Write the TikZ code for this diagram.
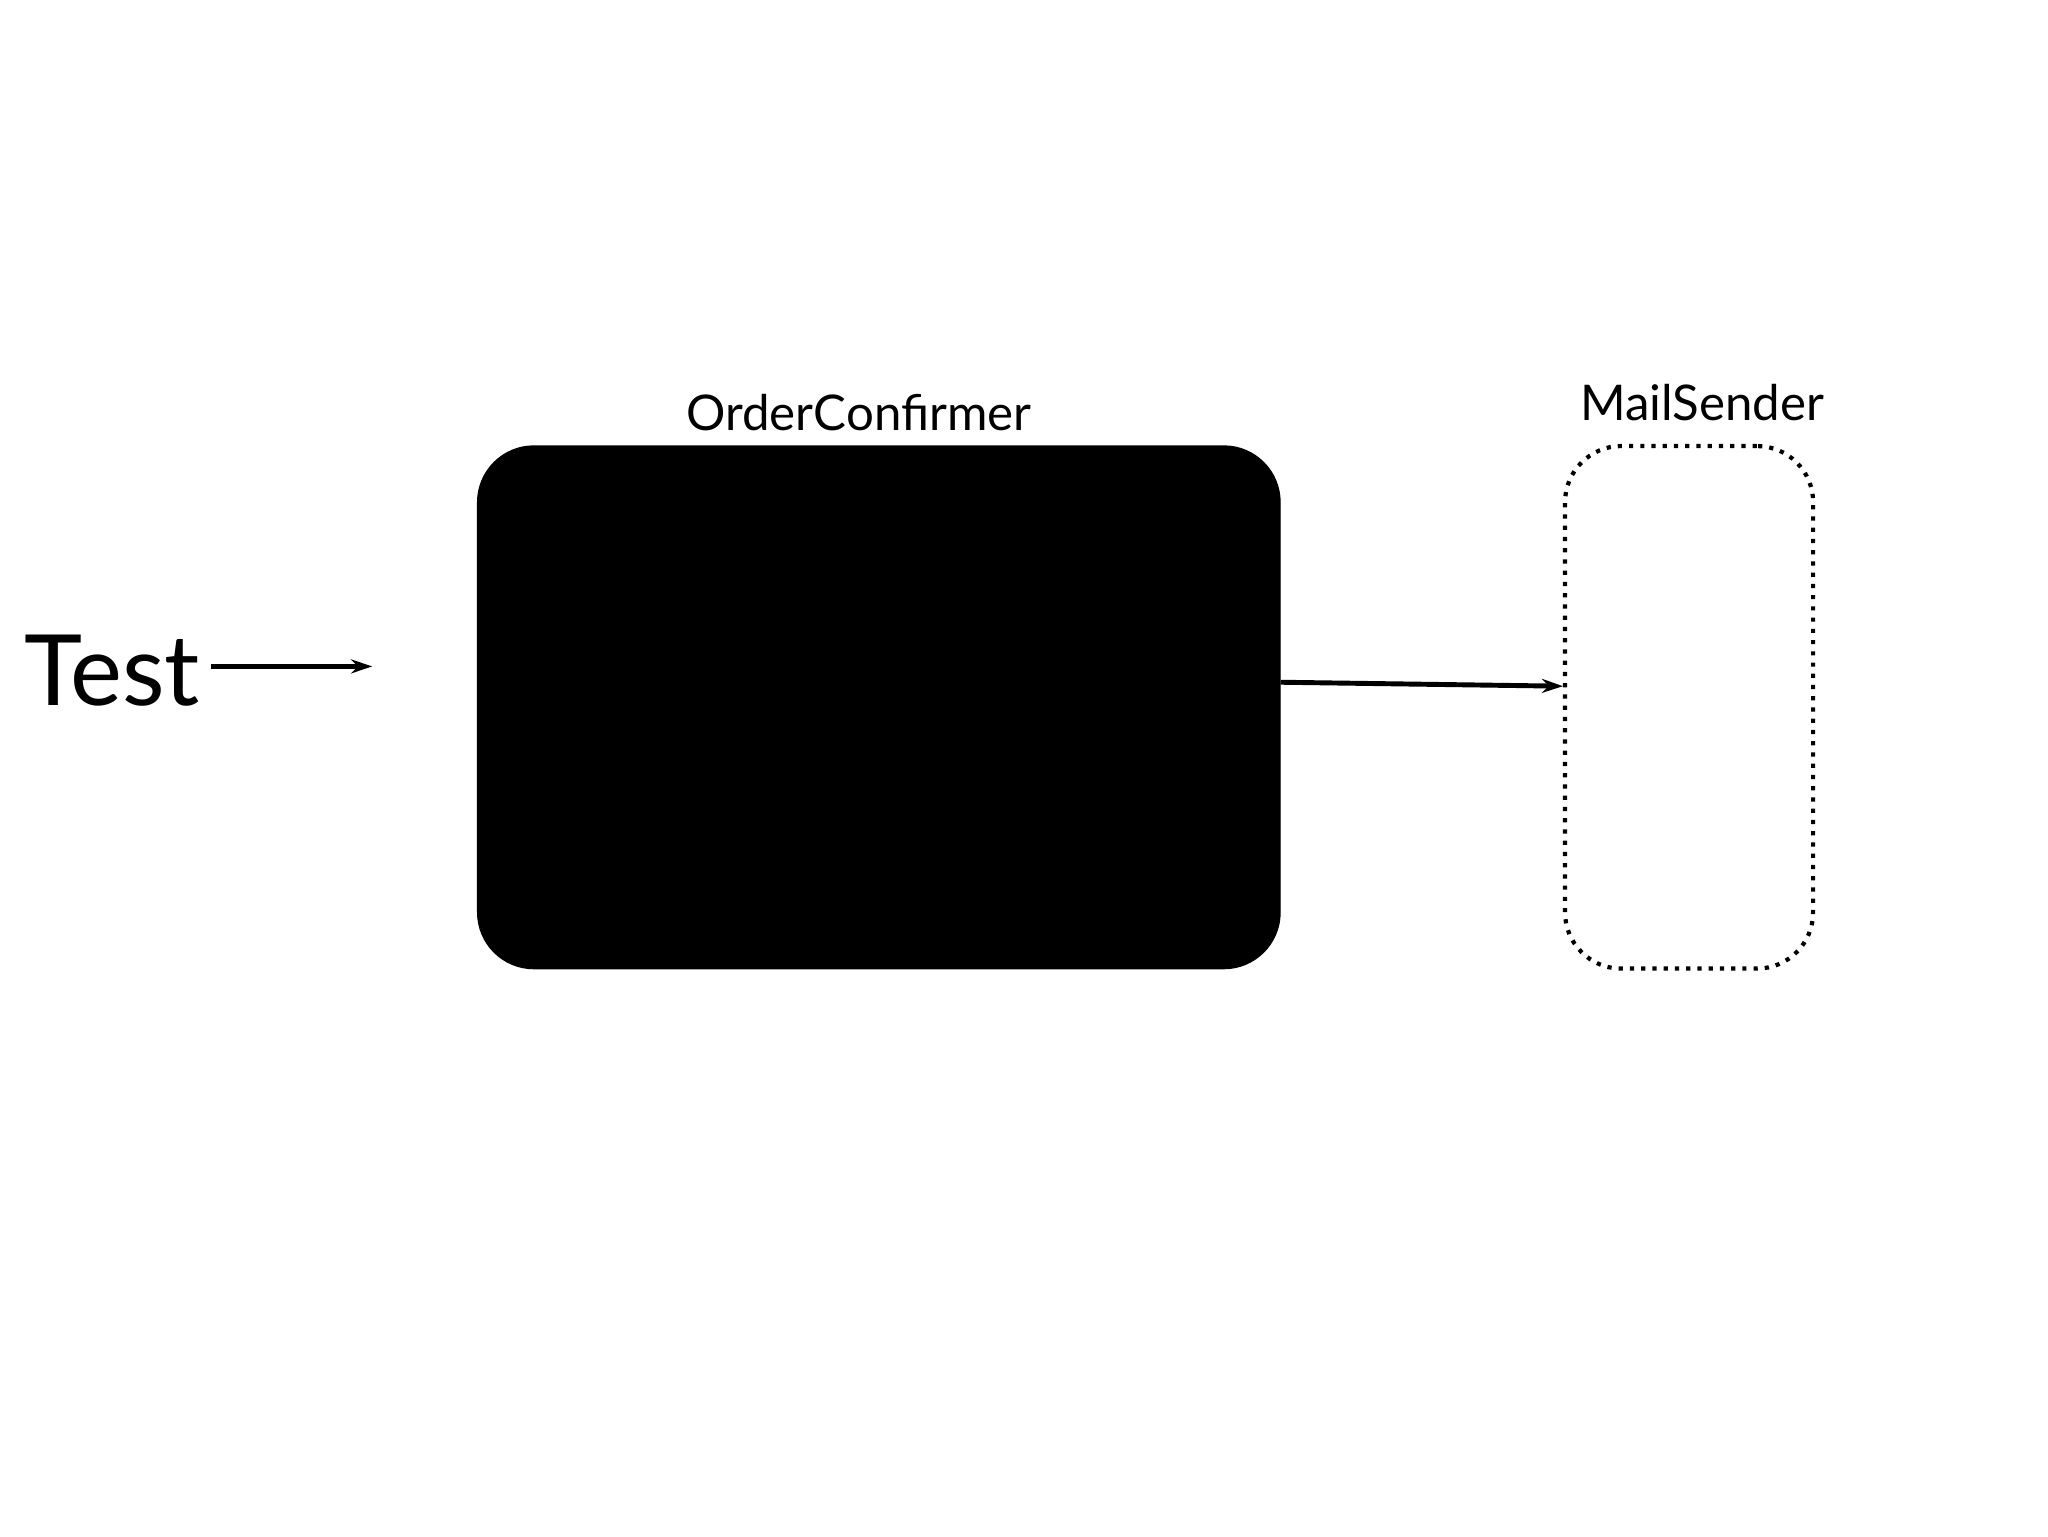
\documentclass[tikz,border=0pt]{standalone}
\usepackage{fontspec}
\setmainfont{Lato}
\usetikzlibrary{arrows.meta}
\begin{document}
\begin{tikzpicture}[x=0.0132cm,y=-0.0132cm,
  conn/.style={line width=1.4pt,-{Stealth[length=6pt,width=4pt]}},
  lbl/.style={font=\fontsize{14}{16}\selectfont}]
\useasboundingbox (0,0) rectangle (1552,1164);
\node[font=\fontsize{28}{32}\selectfont] (test) at (85,508) {Test};
\coordinate (tin) at (282,505);
\node[draw,fill=black,rounded corners=16pt,minimum width=608*0.0132cm,minimum height=396*0.0132cm] (oc) at (666,536) {};
\node[lbl] (ocl) at (651,313) {OrderConfirmer};
\node[draw,dotted,line width=1.2pt,rounded corners=16pt,minimum width=188*0.0132cm,minimum height=396*0.0132cm] (ms) at (1280,536) {};
\node[lbl] (msl) at (1290,305) {MailSender};
\draw[conn] (160,505) -- (tin);
\draw[conn] (oc.east |- 0,517) -- (ms.west |- 0,520);
\end{tikzpicture}
\end{document}
